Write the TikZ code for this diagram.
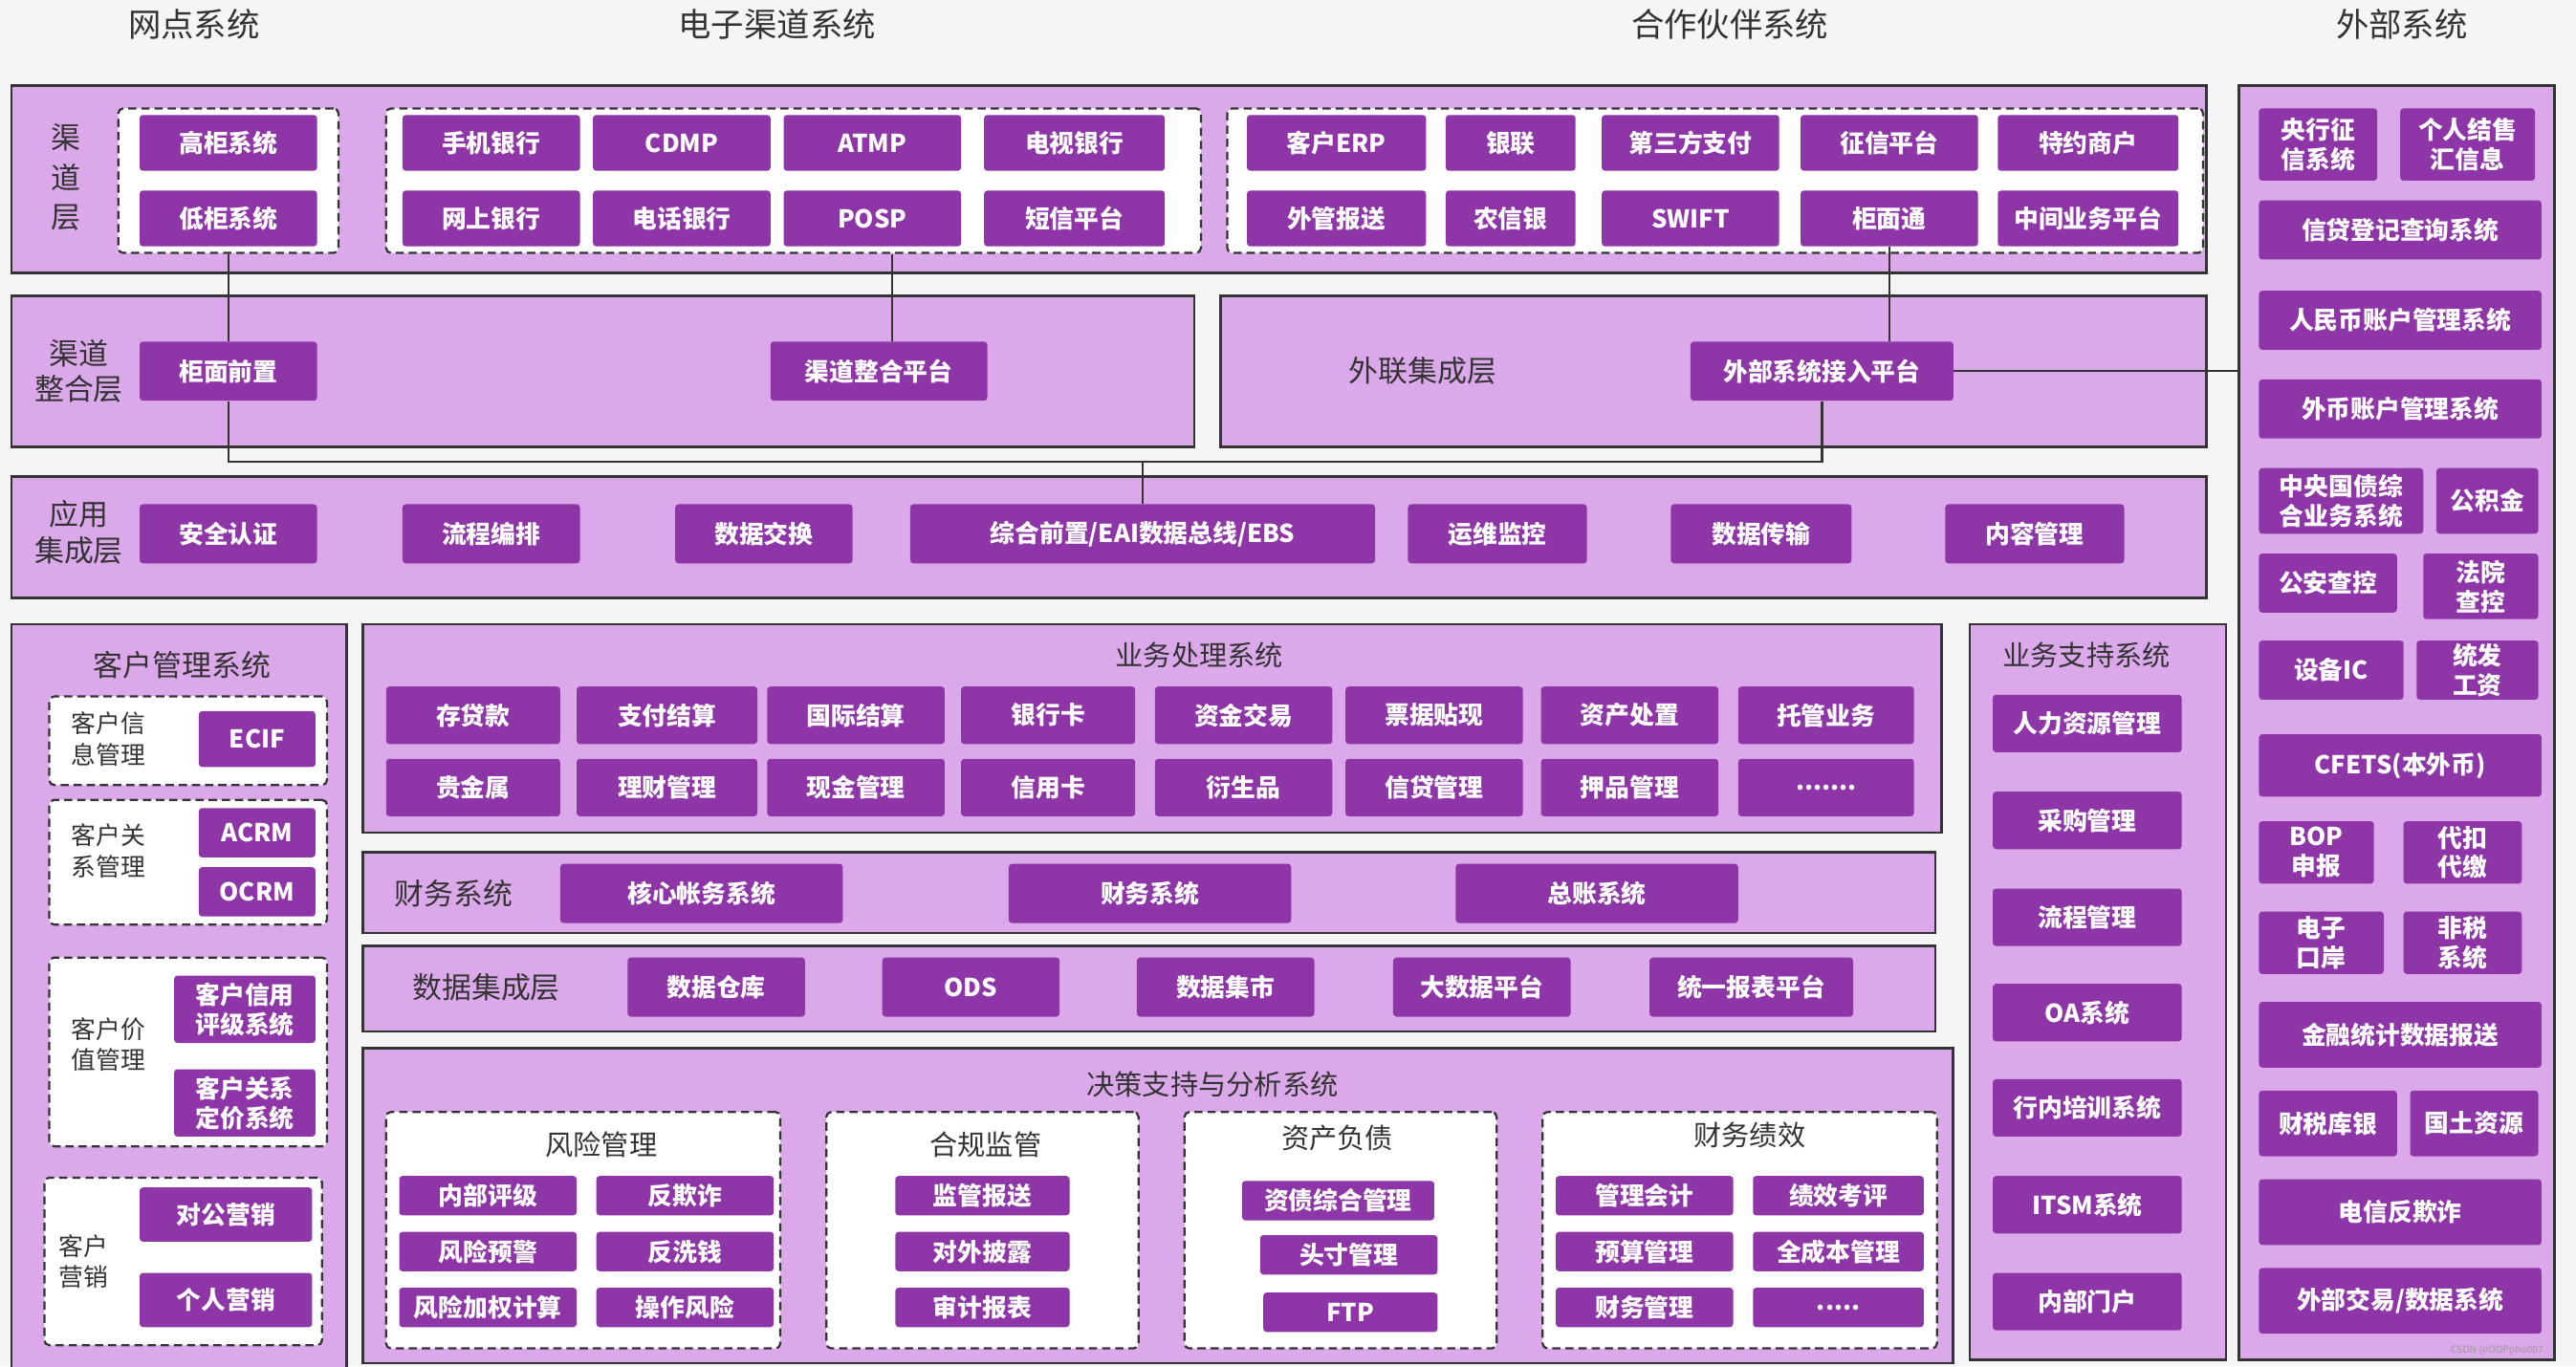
\documentclass[tikz,border=0pt]{standalone}
\usepackage{fontspec}
\setmainfont{Noto Sans CJK SC}
\begin{document}
\begin{tikzpicture}[x=1pt,y=-1pt,
 panel/.style={draw=black!80,line width=1.6pt,fill=panelc,inner sep=0pt},
 btn/.style={fill=btnc,text=white,rounded corners=2pt,inner sep=0pt,align=center,font=\fontsize{15}{18}\selectfont\bfseries},
 dbox/.style={draw=black!80,line width=1.3pt,dash pattern=on 5pt off 3pt,fill=white,rounded corners=3pt,inner sep=0pt},
 lbl/.style={text=black!80,align=center,font=\fontsize{17}{21}\selectfont},
 ttl/.style={text=black!80,font=\fontsize{20}{24}\selectfont},
 conn/.style={draw=black!80,line width=1.3pt}]
\definecolor{panelc}{HTML}{DBA9EA}
\definecolor{btnc}{HTML}{8E35A8}
\definecolor{bgc}{HTML}{F5F5F5}
\newcommand\bx[6]{\node[btn,minimum width={(#4-#2)*1pt},minimum height={(#5-#3)*1pt}] (#1) at ({(#2+#4)/2},{(#3+#5)/2}) {#6};}
\newcommand\pn[5]{\node[panel,minimum width={(#4-#2)*1pt},minimum height={(#5-#3)*1pt}] (#1) at ({(#2+#4)/2},{(#3+#5)/2}) {};}
\newcommand\db[5]{\node[dbox,minimum width={(#4-#2)*1pt},minimum height={(#5-#3)*1pt}] (#1) at ({(#2+#4)/2},{(#3+#5)/2}) {};}
\fill[bgc] (0,0) rectangle (1568,832);
\useasboundingbox (0,0) rectangle (1568,832);
% titles
\node[ttl] (t1) at (118,15) {网点系统};
\node[ttl] (t2) at (473,15) {电子渠道系统};
\node[ttl] (t3) at (1053,15) {合作伙伴系统};
\node[ttl] (t4) at (1462,15) {外部系统};
% channel layer
\pn{p1}{7}{52}{1343}{166}
\node[lbl,font=\fontsize{18}{24}\selectfont] (l1) at (40,108) {渠\\道\\层};
\db{gA}{72}{66}{206}{154}
\bx{gg}{85}{70}{193}{104}{高柜系统}
\bx{dg}{85}{116}{193}{150}{低柜系统}
\db{gB}{235}{66}{731}{154}
\bx{b1}{245}{70}{353}{104}{手机银行}
\bx{b2}{361}{70}{469}{104}{CDMP}
\bx{b3}{477}{70}{585}{104}{ATMP}
\bx{b4}{599}{70}{709}{104}{电视银行}
\bx{b5}{245}{116}{353}{150}{网上银行}
\bx{b6}{361}{116}{469}{150}{电话银行}
\bx{b7}{477}{116}{585}{150}{POSP}
\bx{b8}{599}{116}{709}{150}{短信平台}
\db{gC}{747}{66}{1341}{154}
\bx{c1}{759}{70}{868}{104}{客户ERP}
\bx{c2}{880}{70}{959}{104}{银联}
\bx{c3}{975}{70}{1083}{104}{第三方支付}
\bx{c4}{1096}{70}{1204}{104}{征信平台}
\bx{c5}{1216}{70}{1326}{104}{特约商户}
\bx{c6}{759}{116}{868}{150}{外管报送}
\bx{c7}{880}{116}{959}{150}{农信银}
\bx{c8}{975}{116}{1083}{150}{SWIFT}
\bx{gmt}{1096}{116}{1204}{150}{柜面通}
\bx{c10}{1216}{116}{1326}{150}{中间业务平台}
% integration
\pn{p2}{7}{180}{727}{272}
\node[lbl,font=\fontsize{18}{22}\selectfont] (l2) at (48,226) {渠道\\整合层};
\bx{qm}{85}{208}{193}{244}{柜面前置}
\bx{qz}{469}{208}{601}{244}{渠道整合平台}
\pn{p3}{743}{180}{1343}{272}
\node[lbl,font=\fontsize{18}{22}\selectfont] (l3) at (866,226) {外联集成层};
\bx{wb}{1029}{208}{1189}{244}{外部系统接入平台}
% app integration
\pn{p4}{7}{290}{1343}{364}
\node[lbl,font=\fontsize{18}{22}\selectfont] (l4) at (48,324) {应用\\集成层};
\bx{a1}{85}{307}{193}{343}{安全认证}
\bx{a2}{245}{307}{353}{343}{流程编排}
\bx{a3}{411}{307}{519}{343}{数据交换}
\bx{zh}{554}{307}{837}{343}{综合前置/EAI数据总线/EBS}
\bx{a5}{857}{307}{966}{343}{运维监控}
\bx{a6}{1017}{307}{1127}{343}{数据传输}
\bx{a7}{1184}{307}{1293}{343}{内容管理}
% external
\pn{ext}{1363}{52}{1555}{828}
\bx{e1}{1375}{66}{1447}{110}{央行征\\信系统}
\bx{e2}{1461}{66}{1543}{110}{个人结售\\汇信息}
\bx{e3}{1375}{122}{1547}{158}{信贷登记查询系统}
\bx{e4}{1375}{177}{1547}{213}{人民币账户管理系统}
\bx{e5}{1375}{231}{1547}{267}{外币账户管理系统}
\bx{e6}{1375}{285}{1475}{325}{中央国债综\\合业务系统}
\bx{e7}{1483}{285}{1545}{325}{公积金}
\bx{e8}{1375}{337}{1459}{373}{公安查控}
\bx{e9}{1475}{337}{1545}{377}{法院\\查控}
\bx{e10}{1375}{390}{1463}{426}{设备IC}
\bx{e11}{1471}{390}{1545}{426}{统发\\工资}
\bx{e12}{1375}{447}{1547}{485}{CFETS(本外币)}
\bx{e13}{1375}{500}{1445}{538}{BOP\\申报}
\bx{e14}{1463}{500}{1535}{538}{代扣\\代缴}
\bx{e15}{1375}{555}{1451}{593}{电子\\口岸}
\bx{e16}{1463}{555}{1535}{593}{非税\\系统}
\bx{e17}{1375}{610}{1547}{650}{金融统计数据报送}
\bx{e18}{1375}{664}{1459}{704}{财税库银}
\bx{e19}{1467}{664}{1545}{704}{国土资源}
\bx{e20}{1375}{718}{1547}{758}{电信反欺诈}
\bx{e21}{1375}{772}{1547}{812}{外部交易/数据系统}
% customer mgmt
\pn{cm}{7}{380}{211}{836}
\node[lbl,font=\fontsize{18}{22}\selectfont] (cmt) at (111,405) {客户管理系统};
\db{k1}{30}{424}{199}{478}
\node[lbl,font=\fontsize{15}{19}\selectfont] (k1l) at (66,450) {客户信\\息管理};
\bx{ecif}{121}{433}{192}{467}{ECIF}
\db{k2}{30}{487}{199}{563}
\node[lbl,font=\fontsize{15}{19}\selectfont] (k2l) at (66,518) {客户关\\系管理};
\bx{acrm}{121}{492}{192}{522}{ACRM}
\bx{ocrm}{121}{528}{192}{558}{OCRM}
\db{k3}{30}{583}{199}{698}
\node[lbl,font=\fontsize{15}{19}\selectfont] (k3l) at (66,636) {客户价\\值管理};
\bx{kx1}{106}{594}{192}{635}{客户信用\\评级系统}
\bx{kx2}{106}{651}{192}{692}{客户关系\\定价系统}
\db{k4}{27}{717}{196}{819}
\node[lbl,font=\fontsize{15}{19}\selectfont] (k4l) at (51,768) {客户\\营销};
\bx{yx1}{85}{723}{190}{756}{对公营销}
\bx{yx2}{85}{775}{190}{808}{个人营销}
% business processing
\pn{bp}{221}{380}{1182}{507}
\node[lbl] (bpt) at (730,399) {业务处理系统};
\bx{r1}{235}{418}{341}{453}{存贷款}
\bx{r2}{351}{418}{461}{453}{支付结算}
\bx{r3}{467}{418}{575}{453}{国际结算}
\bx{r4}{585}{418}{691}{453}{银行卡}
\bx{r5}{703}{418}{811}{453}{资金交易}
\bx{r6}{819}{418}{927}{453}{票据贴现}
\bx{r7}{938}{418}{1046}{453}{资产处置}
\bx{r8}{1058}{418}{1165}{453}{托管业务}
\bx{s1}{235}{462}{341}{497}{贵金属}
\bx{s2}{351}{462}{461}{497}{理财管理}
\bx{s3}{467}{462}{575}{497}{现金管理}
\bx{s4}{585}{462}{691}{497}{信用卡}
\bx{s5}{703}{462}{811}{497}{衍生品}
\bx{s6}{819}{462}{927}{497}{信贷管理}
\bx{s7}{938}{462}{1046}{497}{押品管理}
\bx{s8}{1058}{462}{1165}{497}{.......}
% finance
\pn{fp}{221}{519}{1178}{568}
\node[lbl,font=\fontsize{18}{22}\selectfont] (fpt) at (276,544) {财务系统};
\bx{f1}{341}{526}{513}{562}{核心帐务系统}
\bx{f2}{614}{526}{786}{562}{财务系统}
\bx{f3}{886}{526}{1058}{562}{总账系统}
% data integration
\pn{dp}{221}{576}{1178}{628}
\node[lbl,font=\fontsize{18}{22}\selectfont] (dpt) at (296,601) {数据集成层};
\bx{d1}{382}{583}{490}{619}{数据仓库}
\bx{d2}{537}{583}{645}{619}{ODS}
\bx{d3}{692}{583}{800}{619}{数据集市}
\bx{d4}{848}{583}{956}{619}{大数据平台}
\bx{d5}{1004}{583}{1128}{619}{统一报表平台}
% decision support
\pn{ds}{221}{638}{1189}{830}
\node[lbl] (dst) at (738,660) {决策支持与分析系统};
\db{m1}{235}{677}{475}{821}
\node[lbl] (m1t) at (366,697) {风险管理};
\bx{m11}{243}{716}{351}{740}{内部评级}
\bx{m12}{363}{716}{471}{740}{反欺诈}
\bx{m13}{243}{750}{351}{774}{风险预警}
\bx{m14}{363}{750}{471}{774}{反洗钱}
\bx{m15}{243}{784}{351}{808}{风险加权计算}
\bx{m16}{363}{784}{471}{808}{操作风险}
\db{m2}{503}{677}{693}{821}
\node[lbl] (m2t) at (600,697) {合规监管};
\bx{m21}{545}{716}{651}{740}{监管报送}
\bx{m22}{545}{750}{651}{774}{对外披露}
\bx{m23}{545}{784}{651}{808}{审计报表}
\db{m3}{721}{677}{911}{821}
\node[lbl] (m3t) at (814,693) {资产负债};
\bx{m31}{756}{719}{873}{743}{资债综合管理}
\bx{m32}{767}{752}{875}{776}{头寸管理}
\bx{m33}{769}{787}{875}{811}{FTP}
\db{m4}{939}{677}{1179}{821}
\node[lbl] (m4t) at (1065,691) {财务绩效};
\bx{m41}{947}{716}{1055}{740}{管理会计}
\bx{m42}{1067}{716}{1171}{740}{绩效考评}
\bx{m43}{947}{750}{1055}{774}{预算管理}
\bx{m44}{1067}{750}{1171}{774}{全成本管理}
\bx{m45}{947}{784}{1055}{808}{财务管理}
\bx{m46}{1067}{784}{1171}{808}{.....}
% business support
\pn{bs}{1199}{380}{1355}{828}
\node[lbl] (bst) at (1270,399) {业务支持系统};
\bx{u1}{1213}{423}{1328}{458}{人力资源管理}
\bx{u2}{1213}{482}{1328}{517}{采购管理}
\bx{u3}{1213}{541}{1328}{576}{流程管理}
\bx{u4}{1213}{599}{1328}{634}{OA系统}
\bx{u5}{1213}{657}{1328}{692}{行内培训系统}
\bx{u6}{1213}{716}{1328}{751}{ITSM系统}
\bx{u7}{1213}{775}{1328}{810}{内部门户}
% connectors
\coordinate (j1) at (139,281);
\coordinate (j2) at (1109,281);
\coordinate (j3) at (695.5,281);
\coordinate (qx) at (543,0);
\draw[conn] (gA.south -| qm.north) -- (qm.north);
\draw[conn] (qm.south) -- (j1) -- (j2) -- (wb.south);
\draw[conn] (j3) -- (zh.north);
\draw[conn] (gB.south -| qx) -- (qz.north -| qx);
\draw[conn] (gmt.south) -- (gmt.south |- wb.north);
\draw[conn] (wb.east) -- (ext.west |- wb.east);
\node[text=black!40,font=\fontsize{6}{7}\selectfont] (wm) at (1520,822) {CSDN @OOPpho007};
\end{tikzpicture}
\end{document}
